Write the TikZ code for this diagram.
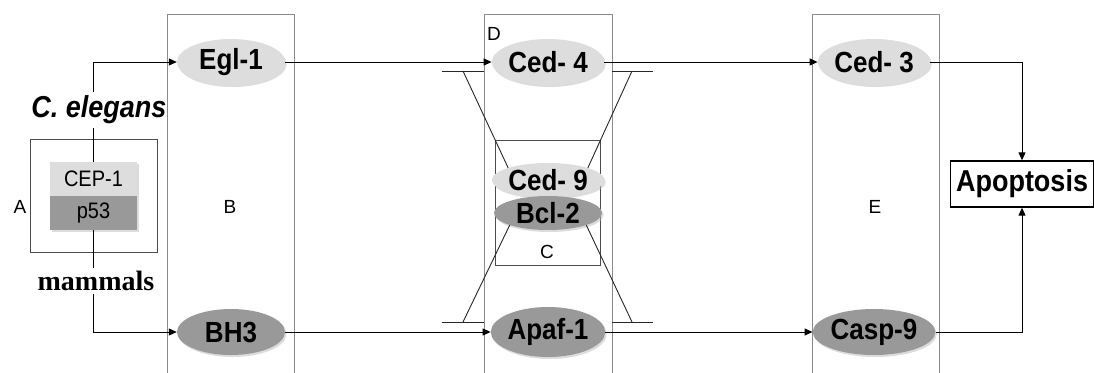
\documentclass[tikz,border=0pt]{standalone}
\usepackage{fontspec}
\setmainfont{Liberation Sans}
\newfontfamily\serifbf{Liberation Serif}
\usetikzlibrary{shapes.geometric,arrows.meta,shadows}
\definecolor{lightg}{HTML}{DDDDDD}
\definecolor{darkg}{HTML}{999999}
\definecolor{boxg}{HTML}{8A8A8A}
\newcommand\tallt[1]{\scalebox{1}[1.12]{#1}}
\tikzset{
  prot/.style={ellipse,inner sep=0pt,minimum width=108pt,minimum height=46pt,
    font=\fontsize{26}{26}\selectfont\bfseries,
    drop shadow={shadow xshift=1.5pt,shadow yshift=-2pt,fill=gray!55}},
  lightp/.style={prot,fill=lightg},
  darkp/.style={prot,fill=darkg},
  lane/.style={draw=boxg,line width=0.8pt},
  smallbox/.style={draw=black!70,line width=0.8pt},
  arr/.style={line width=1pt,-{Triangle[length=8pt,width=7pt]}},
  conn/.style={line width=1pt},
  inh/.style={line width=0.9pt,draw=black!85},
  lbl/.style={font=\fontsize{19}{19}\selectfont},
  half/.style={draw=none,minimum width=87pt,minimum height=34pt,inner sep=0pt,
    font=\fontsize{20}{20}\selectfont,
    drop shadow={shadow xshift=1.5pt,shadow yshift=-1.5pt,fill=gray!55}},
}
\begin{document}
\begin{tikzpicture}[x=1pt,y=-1pt]
\useasboundingbox (0,0) rectangle (1094,372);
% lanes
\draw[lane] (167,380) -- (167,14) -- (294,14) -- (294,380);
\draw[lane] (484,380) -- (484,14) -- (612,14) -- (612,380);
\draw[lane] (812,380) -- (812,14) -- (939,14) -- (939,380);
% boxes A and C
\draw[smallbox] (30,139) rectangle (157,252);
\draw[smallbox] (495,140) rectangle (600,265);
% labels
\node[lbl] (lA) at (20,207) {A};
\node[lbl] (lB) at (230,207) {B};
\node[lbl] (lC) at (547,252) {C};
\node[lbl] (lD) at (494,34) {D};
\node[lbl] (lE) at (875,207) {E};
% CEP-1 / p53
\node[half,fill=lightg] (cep) at (93.5,179) {\tallt{CEP-1}};
\node[half,fill=darkg] (p53) at (93.5,213) {\tallt{p53}};
\node[font=\fontsize{27}{27}\selectfont\bfseries\itshape] (cel) at (99,110) {\tallt{C. elegans}};
\node[font=\fontsize{28}{28}\selectfont\serifbf\bfseries] (mam) at (96,281) {mammals};
% proteins
\node[lightp] (egl) at (231,62) {\tallt{Egl-1}};
\node[darkp] (bh3) at (231,332) {\tallt{BH3}};
\node[lightp,minimum width=110pt] (ced4) at (548,62) {\tallt{Ced- 4}};
\node[lightp,minimum height=34pt] (ced9) at (548,180) {\tallt{Ced- 9}};
\node[darkp,minimum height=34pt] (bcl2) at (548,213) {\tallt{Bcl-2}};
\node[darkp,minimum width=110pt,minimum height=50pt] (apaf) at (548,332) {\tallt{Apaf-1}};
\node[lightp] (ced3) at (874,62) {\tallt{Ced- 3}};
\node[darkp] (casp) at (874,332) {\tallt{Casp-9}};
\node[draw,line width=1.4pt,minimum width=143pt,minimum height=46pt,inner sep=0pt,
  font=\fontsize{27}{27}\selectfont\bfseries] (apo) at (1022,184) {\tallt{Apoptosis}};
% left connectors
\draw[conn] (cep.north) -- (cep.north |- cel.south);
\draw[arr] (cep.north |- cel.north) |- (egl.west);
\draw[conn] (p53.south) -- (p53.south |- mam.north);
\draw[arr] (p53.south |- mam.south) |- (bh3.west);
% main arrows
\draw[arr] (egl.east) -- (ced4.west);
\draw[arr] (bh3.east) -- (apaf.west);
\draw[arr] (ced4.east) -- (ced3.west);
\draw[arr] (apaf.east) -- (casp.west);
\draw[arr] (ced3.east) -| (apo.north);
\draw[arr] (casp.east) -| (apo.south);
% inhibition
\coordinate (tl) at (463,71);
\coordinate (tr) at (632,71);
\coordinate (bl) at (463,322);
\coordinate (br) at (632,322);
\draw[inh] (442,71) -- (484,71);
\draw[inh] (612,71) -- (653,71);
\draw[inh] (442,322) -- (484,322);
\draw[inh] (612,322) -- (653,322);
\draw[inh] (tl) -- (ced9.north west);
\draw[inh] (tr) -- (ced9.north east);
\draw[inh] (bl) -- (bcl2.south west);
\draw[inh] (br) -- (bcl2.south east);
\end{tikzpicture}
\end{document}
